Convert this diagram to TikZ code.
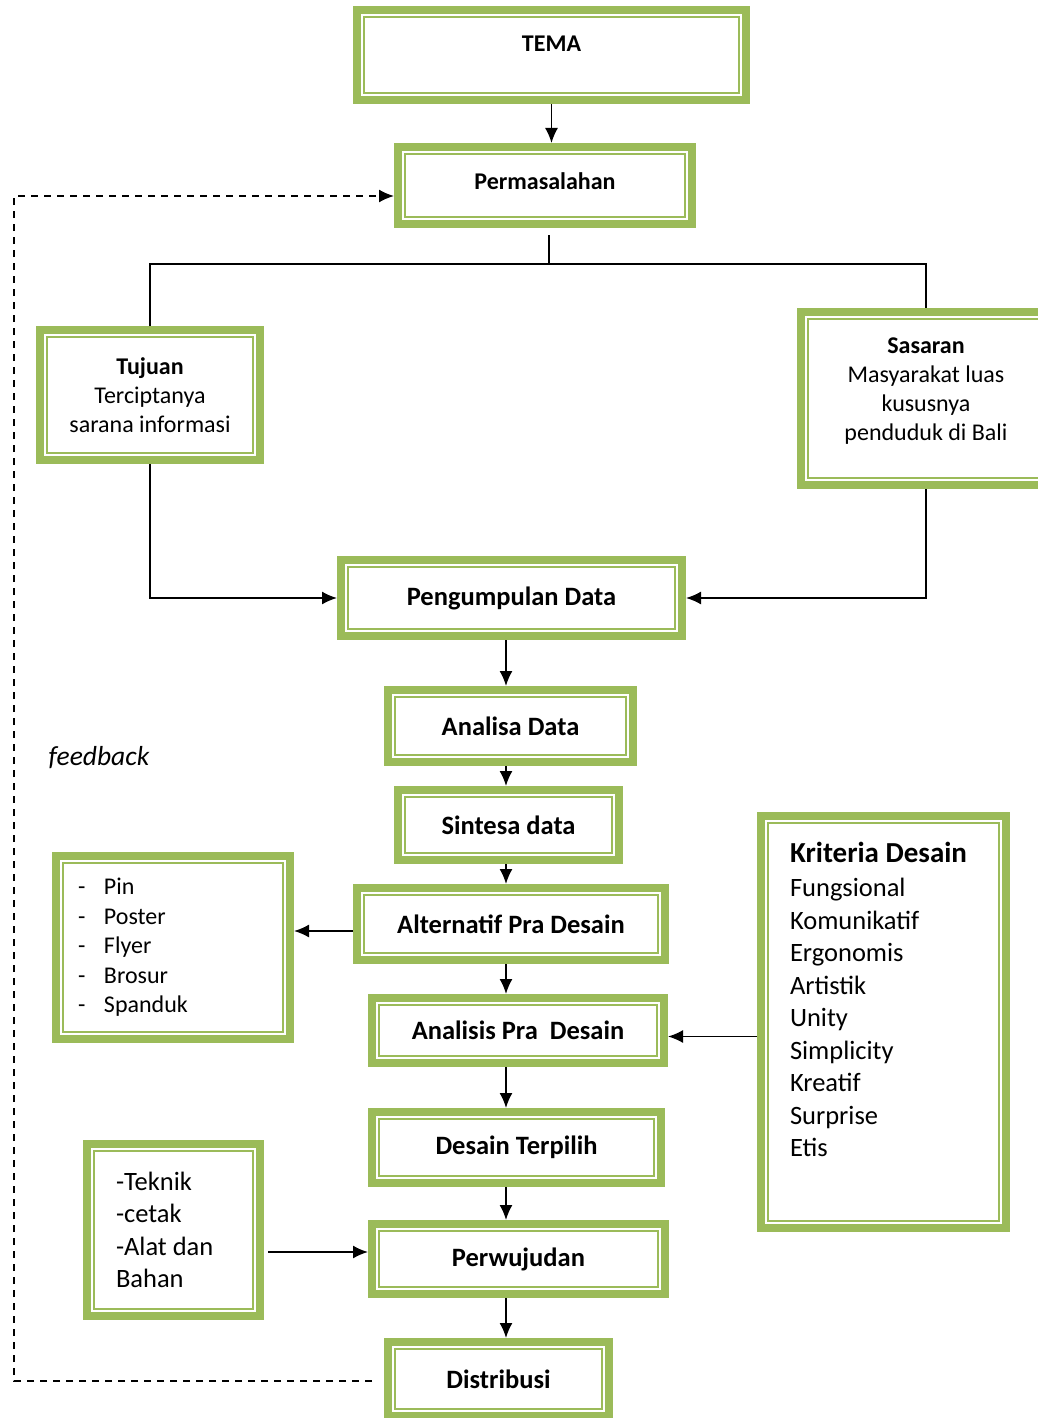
\documentclass[tikz,border=0pt]{standalone}
\usepackage{fontspec}
\setmainfont{Carlito}
\usetikzlibrary{arrows.meta}
\definecolor{hijau}{HTML}{9BBB59}

\begin{document}
\begin{tikzpicture}
		[x=1pt,y=-1pt,every node/.style={font=\fontsize{24}{29}\selectfont},
		box/.style={draw=hijau,line width=8pt,outer sep=4pt,inner sep=0pt,align=center,
			path picture={\draw[hijau,line width=1.8pt] ([shift={(7pt,7pt)}]path picture bounding box.south west) rectangle ([shift={(-7pt,-7pt)}]path picture bounding box.north east);}},
		tahap/.style={box,font=\bfseries\fontsize{26.5}{30}\selectfont},
		judul/.style={box,font=\bfseries\fontsize{24}{28}\selectfont},
		daftar/.style={box,align=flush left},
		link/.style={line width=1.7pt},
		edge/.style={link,-{Latex[length=15pt,width=13pt]}},
		fback/.style={edge,dash pattern=on 7pt off 6pt}]
		\useasboundingbox (0,0) rectangle (1038,1418);
		\clip (0,0) rectangle (1038,1418);
		\node[judul,minimum width=389,minimum height=90] (tema) at (551.5,55) {\raisebox{22pt}{TEMA}};
		\node[judul,minimum width=294,minimum height=77] (perm) at (545,185.5) {\raisebox{8pt}{Permasalahan}};
		\node[box,minimum width=220,minimum height=130] (tujuan) at (150,395) {\textbf{Tujuan}\\Terciptanya\\sarana informasi};
		\node[box,minimum width=250,minimum height=173] (sasaran) at (926,398.5) {\textbf{Sasaran}\\Masyarakat luas\\kususnya\\penduduk di Bali\\[-11pt]\mbox{}};
		\node[tahap,minimum width=341,minimum height=76] (pengumpulan) at (511.5,598) {Pengumpulan Data};
		\node[tahap,minimum width=245,minimum height=72] (analisa) at (510.5,726) {Analisa Data};
		\node[tahap,minimum width=221,minimum height=70] (sintesa) at (508.5,825) {Sintesa data};
		\node[tahap,minimum width=308,minimum height=72] (alternatif) at (511,924) {Alternatif Pra Desain};
		\node[tahap,minimum width=292,minimum height=65] (analisis) at (518,1030.5) {\raisebox{-6pt}{Analisis Pra\ \ Desain}};
		\node[tahap,minimum width=289,minimum height=71] (desain) at (516.5,1147.5) {\raisebox{-5pt}{Desain Terpilih}};
		\node[tahap,minimum width=293,minimum height=70] (perwujudan) at (518.5,1259) {\raisebox{-6pt}{Perwujudan}};
		\node[tahap,minimum width=221,minimum height=74] (distribusi) at (498.5,1379) {Distribusi};
		\node[daftar,text width=190,minimum width=234,minimum height=183,font=\fontsize{24}{29.5}\selectfont] (media) at (173,947.5)
			{\makebox[26pt][l]{-}Pin\\\makebox[26pt][l]{-}Poster\\\makebox[26pt][l]{-}Flyer\\\makebox[26pt][l]{-}Brosur\\\makebox[26pt][l]{-}Spanduk};
		\node[daftar,text width=115,minimum width=173,minimum height=172,font=\fontsize{26.5}{32.4}\selectfont] (teknik) at (173.5,1230)
			{-Teknik\\-cetak\\-Alat dan\\Bahan};
		\node[daftar,text width=187,minimum width=245,minimum height=412,font=\fontsize{26.5}{32.5}\selectfont] (kriteria) at (883.5,1022)
			{{\bfseries\fontsize{29}{32.5}\selectfont Kriteria Desain}\\[2pt]Fungsional\\Komunikatif\\Ergonomis\\Artistik\\Unity\\Simplicity\\Kreatif\\Surprise\\Etis\\[13pt]\mbox{}};
		\node[font=\itshape\fontsize{27.5}{30}\selectfont] (fbtext) at (99,758) {feedback};
		
		\coordinate (cabang) at (549,264);
		\coordinate (poros) at (506,0);
		\coordinate (keMedia) at ([yshift=-7pt]alternatif.west);
		\coordinate (keAnalisis) at ([yshift=-6pt]analisis.east);
		\coordinate (kePerwujudan) at ([yshift=7pt]perwujudan.west);
		\coordinate (fbBawah) at (14,1381);
		\coordinate (fbAtas) at (14,196);
		
		\draw[edge] (tema.south) -- (tema.south |- perm.north);
		\draw[link] (cabang |- perm.south) ++(0,7) -- (cabang);
		\draw[link] (tujuan.north) |- (cabang) -| (sasaran.north);
		\draw[edge] (tujuan.south) |- (pengumpulan.west);
		\draw[edge] (sasaran.south) |- (pengumpulan.east);
		\foreach \from/\to in {pengumpulan/analisa,analisa/sintesa,sintesa/alternatif,alternatif/analisis,analisis/desain,desain/perwujudan,perwujudan/distribusi}
		\draw[edge] (poros |- \from.south) -- (poros |- \to.north);
		\draw[edge] (keMedia) -- (keMedia -| media.east);
		\draw[edge] (keAnalisis -| kriteria.west) -- (keAnalisis);
		\draw[edge] (kePerwujudan -| teknik.east) ++(4,0) -- (kePerwujudan);
		\draw[fback] (distribusi.west |- fbBawah) ++(-12,0) -- (fbBawah) -- (fbAtas) -- (perm.west |- fbAtas);
		\end{tikzpicture}
\end{document}
